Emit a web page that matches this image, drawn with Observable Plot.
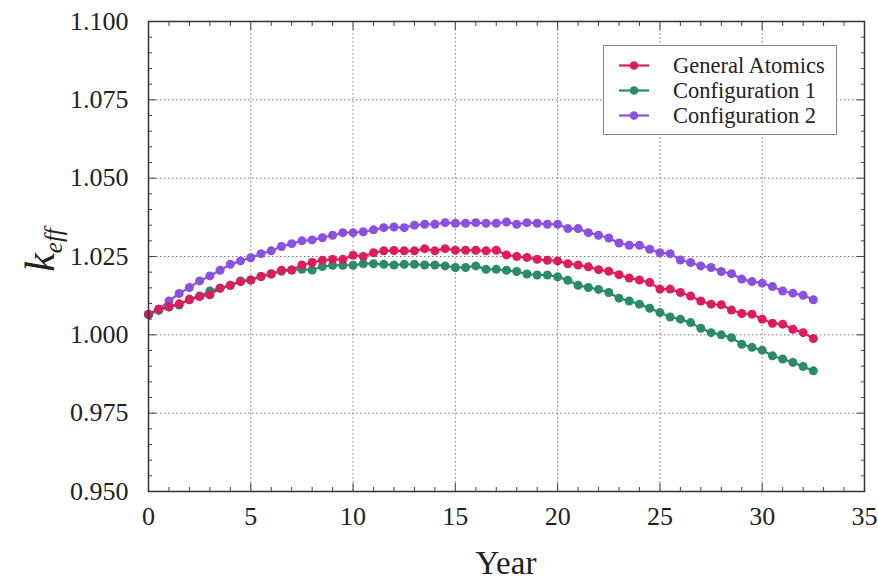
<!DOCTYPE html>
<html>
<head>
<meta charset="utf-8">
<script src="https://cdn.jsdelivr.net/npm/d3@7"></script>
<script src="https://cdn.jsdelivr.net/npm/@observablehq/plot@0.6"></script>
<style>
  html, body { margin: 0; padding: 0; background: #fff; }
  #wrap { position: relative; width: 878px; height: 583px; font-family: "Liberation Serif", "Times New Roman", serif; }
  #legend { position: absolute; left: 603px; top: 45px; width: 234px; height: 90px; box-sizing: border-box;
            border: 1.2px solid #888; background: #fff; font-size: 22.5px; color: #222; }
  #legend .row { position: absolute; left: 0; height: 25px; display: flex; align-items: center; }
  #legend svg { position: absolute; left: 14px; }
  #legend span { position: absolute; left: 69px; white-space: nowrap; line-height: 25px; }
</style>
</head>
<body>
<div id="wrap"></div>
<script>
const years = [0,0.5,1,1.5,2,2.5,3,3.5,4,4.5,5,5.5,6,6.5,7,7.5,8,8.5,9,9.5,10,10.5,11,11.5,12,12.5,13,13.5,14,14.5,15,15.5,16,16.5,17,17.5,18,18.5,19,19.5,20,20.5,21,21.5,22,22.5,23,23.5,24,24.5,25,25.5,26,26.5,27,27.5,28,28.5,29,29.5,30,30.5,31,31.5,32,32.5];

const generalAtomics = [1.0065,1.0082,1.0090,1.0099,1.0112,1.0122,1.0128,1.0149,1.0158,1.0170,1.0175,1.0186,1.0194,1.0206,1.0207,1.0223,1.0231,1.0238,1.0241,1.0241,1.0254,1.0250,1.0262,1.0268,1.0269,1.0268,1.0268,1.0275,1.0268,1.0275,1.0270,1.0270,1.0270,1.0268,1.0270,1.0255,1.0250,1.0247,1.0241,1.0238,1.0236,1.0227,1.0223,1.0217,1.0208,1.0203,1.0192,1.0181,1.0175,1.0167,1.0146,1.0146,1.0135,1.0124,1.0108,1.0098,1.0096,1.0079,1.0068,1.0066,1.0050,1.0037,1.0034,1.0018,1.0007,0.9988];

const configuration1 = [1.0065,1.0078,1.0089,1.0095,1.0114,1.0124,1.0140,1.0149,1.0158,1.0172,1.0175,1.0186,1.0195,1.0203,1.0207,1.0209,1.0207,1.0218,1.0222,1.0222,1.0222,1.0227,1.0227,1.0225,1.0223,1.0225,1.0225,1.0223,1.0223,1.0220,1.0215,1.0215,1.0220,1.0209,1.0209,1.0206,1.0202,1.0194,1.0191,1.0191,1.0185,1.0174,1.0158,1.0151,1.0145,1.0135,1.0117,1.0108,1.0098,1.0085,1.0071,1.0057,1.0050,1.0039,1.0021,1.0007,1.0000,0.9991,0.9970,0.9960,0.9951,0.9933,0.9923,0.9912,0.9899,0.9885];

const configuration2 = [1.0066,1.0082,1.0108,1.0132,1.0151,1.0172,1.0188,1.0206,1.0225,1.0236,1.0246,1.0259,1.0268,1.0282,1.0291,1.0300,1.0303,1.0310,1.0318,1.0326,1.0326,1.0329,1.0335,1.0342,1.0344,1.0342,1.0350,1.0353,1.0353,1.0358,1.0356,1.0356,1.0358,1.0356,1.0356,1.0360,1.0353,1.0358,1.0356,1.0353,1.0353,1.0339,1.0339,1.0326,1.0318,1.0309,1.0293,1.0286,1.0286,1.0273,1.0262,1.0259,1.0239,1.0231,1.0220,1.0215,1.0202,1.0195,1.0178,1.0170,1.0165,1.0154,1.0140,1.0133,1.0126,1.0112];

const seriesNames = ["General Atomics", "Configuration 1", "Configuration 2"];
const seriesColors = ["#dc1c5c", "#2a8a6a", "#8a50e0"];

const xTicks = [0, 5, 10, 15, 20, 25, 30, 35];
const xMinor = [1,2,3,4,6,7,8,9,11,12,13,14,16,17,18,19,21,22,23,24,26,27,28,29,31,32,33,34];
const yTicks = [0.950, 0.975, 1.000, 1.025, 1.050, 1.075, 1.100];
const yMinor = [0.955,0.960,0.965,0.970,0.980,0.985,0.990,0.995,1.005,1.010,1.015,1.020,1.030,1.035,1.040,1.045,1.055,1.060,1.065,1.070,1.080,1.085,1.090,1.095];
const xGrid = [5, 10, 15, 20, 25, 30];
const yGrid = [0.975, 1.000, 1.025, 1.050, 1.075];

const seriesValues = [generalAtomics, configuration1, configuration2];
const drawOrder = [2, 1, 0];
const data = drawOrder.flatMap(s => years.map((y, i) => ({year: y, k: seriesValues[s][i], series: seriesNames[s]})));

const serif = "Liberation Serif";
const tickStroke = "#444";
const chart = Plot.plot({
  width: 878,
  height: 583,
  marginLeft: 148,
  marginRight: 14,
  marginTop: 21,
  marginBottom: 92,
  style: {fontFamily: serif, fontSize: "26px", color: "#222", background: "#fff"},
  x: {domain: [0, 35]},
  y: {domain: [0.95, 1.1]},
  color: {domain: seriesNames, range: seriesColors},
  marks: [
    Plot.gridX(xGrid, {stroke: "#777", strokeOpacity: 1, strokeWidth: 1, strokeDasharray: "1.5,2.5"}),
    Plot.gridY(yGrid, {stroke: "#777", strokeOpacity: 1, strokeWidth: 1, strokeDasharray: "1.5,2.5"}),
    Plot.line(data, {x: "year", y: "k", z: "series", stroke: "series", strokeWidth: 2.2}),
    Plot.dot(data, {x: "year", y: "k", fill: "series", r: 4.5}),
    Plot.axisX(xTicks, {anchor: "bottom", tickSize: 0, tickPadding: 15, label: null, tickFormat: d => String(d), fill: "#222", fontFamily: serif, fontSize: 26, fontVariant: "normal"}),
    Plot.axisY(yTicks, {anchor: "left", tickSize: 0, tickPadding: 20, label: null, tickFormat: d3.format(".3f"), fill: "#222", fontFamily: serif, fontSize: 26, fontVariant: "normal"}),
    Plot.axisX(xTicks, {anchor: "bottom", tickSize: -8, text: null, label: null, stroke: tickStroke}),
    Plot.axisX(xMinor, {anchor: "bottom", tickSize: -4, text: null, label: null, stroke: tickStroke}),
    Plot.axisX(xTicks, {anchor: "top", tickSize: -8, text: null, label: null, stroke: tickStroke}),
    Plot.axisX(xMinor, {anchor: "top", tickSize: -4, text: null, label: null, stroke: tickStroke}),
    Plot.axisY(yTicks, {anchor: "left", tickSize: -8, text: null, label: null, stroke: tickStroke}),
    Plot.axisY(yMinor, {anchor: "left", tickSize: -4, text: null, label: null, stroke: tickStroke}),
    Plot.axisY(yTicks, {anchor: "right", tickSize: -8, text: null, label: null, stroke: tickStroke}),
    Plot.axisY(yMinor, {anchor: "right", tickSize: -4, text: null, label: null, stroke: tickStroke}),
    Plot.frame({stroke: "#333", strokeWidth: 1.5})
  ]
});

const wrap = document.getElementById("wrap");
wrap.appendChild(chart);

const svg = d3.select(chart);
svg.append("text")
  .attr("x", 506).attr("y", 574)
  .attr("text-anchor", "middle")
  .attr("font-family", serif)
  .attr("font-size", 33).attr("fill", "#222")
  .text("Year");
const yl = svg.append("text")
  .attr("transform", "translate(54,250) rotate(-90)")
  .attr("text-anchor", "middle")
  .attr("font-family", serif)
  .attr("font-style", "italic")
  .attr("fill", "#222");
yl.append("tspan").attr("font-size", 42).text("k");
yl.append("tspan").attr("font-size", 25).attr("dy", 8).text("eff");

const legend = document.createElement("div");
legend.id = "legend";
seriesNames.forEach((name, i) => {
  const row = document.createElement("div");
  row.className = "row";
  row.style.top = (7 + i * 25) + "px";
  row.style.width = "100%";
  row.innerHTML = `<svg width="32" height="25"><line x1="1" x2="31" y1="12.5" y2="12.5" stroke="${seriesColors[i]}" stroke-width="2.2"/><circle cx="16" cy="12.5" r="4.3" fill="${seriesColors[i]}"/></svg><span>${name}</span>`;
  legend.appendChild(row);
});
wrap.appendChild(legend);
</script>
</body>
</html>
